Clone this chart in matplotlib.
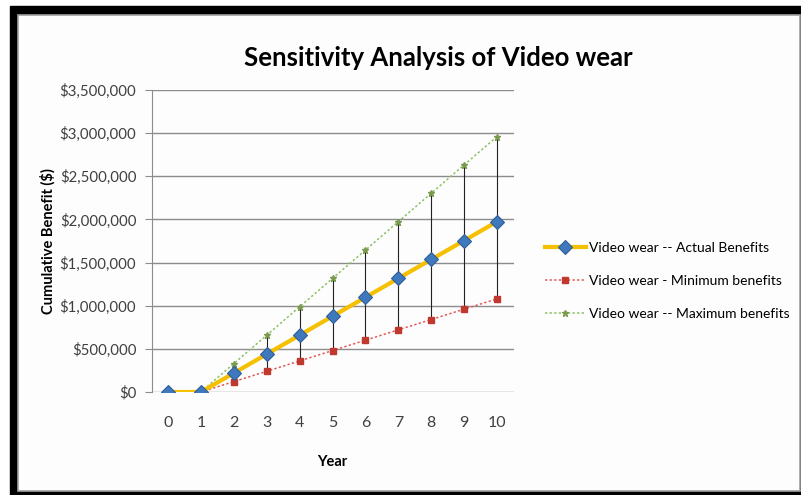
import matplotlib
matplotlib.use("Agg")
import matplotlib.pyplot as plt
import matplotlib.ticker as ticker
from matplotlib.patches import Rectangle

plt.rcParams['font.family'] = ['Lato', 'DejaVu Sans']

years = [0, 1, 2, 3, 4, 5, 6, 7, 8, 9, 10]
actual = [0, 0, 219000, 439000, 658000, 878000, 1097000, 1317000, 1536000, 1755000, 1975000]
minimum = [0, 0, 120000, 240000, 360000, 480000, 600000, 720000, 840000, 960000, 1080000]
maximum = [0, 0, 329000, 658000, 987000, 1316000, 1645000, 1974000, 2303000, 2632000, 2960000]

W, H = 801, 495
fig = plt.figure(figsize=(W / 100, H / 100), dpi=100)

# black frame with white panel
fig.patches.append(Rectangle((10 / W, 0), (W - 10) / W, (H - 6) / H,
                             transform=fig.transFigure, color='black', zorder=-3))
fig.patches.append(Rectangle((18 / W, 4 / H), (W - 19) / W, (H - 15 - 4) / H,
                             transform=fig.transFigure, facecolor='#fdfdfd',
                             edgecolor='#a0a0a0', lw=1.2, zorder=-2))

ax = fig.add_axes([151.5 / W, 1 - 392 / H, 362 / W, 302 / H])
ax.set_facecolor('none')

ax.vlines(years[2:], minimum[2:], maximum[2:], color='#222222', lw=0.8, zorder=2)
ax.plot(years, minimum, color='#e05a57', ls=(0, (1.5, 1.5)), lw=1.1,
        marker='s', ms=4, mfc='#c0392f', mec='#c0392f',
        label='Video wear - Minimum benefits', zorder=3)
ax.plot(years, maximum, color='#8cc060', ls=(0, (1.5, 1.5)), lw=1.1,
        marker='*', ms=5, mfc='#7a9a50', mec='#7a9a50',
        label='Video wear -- Maximum benefits', zorder=3)
ax.plot(years, actual, color='#f5c000', lw=3, marker='D', ms=7,
        mfc='#3f78bd', mec='#2f5f99', mew=0.8,
        label='Video wear -- Actual Benefits', zorder=4)

ax.set_xlim(-0.5, 10.5)
ax.set_ylim(0, 3500000)
ax.set_xticks(years)
ax.yaxis.set_major_locator(ticker.MultipleLocator(500000))
ax.yaxis.set_major_formatter(ticker.FuncFormatter(lambda v, p: '${:,.0f}'.format(v)))
ax.grid(axis='y', color='#8c8c8c', lw=1)
ax.set_axisbelow(True)
for s in ['top', 'right', 'bottom']:
    ax.spines[s].set_visible(False)
ax.spines['left'].set_color('#8c8c8c')
ax.tick_params(axis='y', colors='#8c8c8c', labelcolor='#404040', labelsize=10.8, length=5, pad=6)
ax.tick_params(axis='x', length=0, labelcolor='#404040', labelsize=11.5, pad=17)

ax.set_xlabel('Year', fontsize=10.5, fontweight='bold', labelpad=18)
ax.set_ylabel('Cumulative Benefit ($)', fontsize=10.5, fontweight='bold', labelpad=3)

fig.text(438 / W, 1 - 58 / H, 'Sensitivity Analysis of Video wear', ha='center', va='center',
         fontsize=18.5, fontweight='bold')

h, l = ax.get_legend_handles_labels()
order = [2, 0, 1]
fig.legend([h[i] for i in order], [l[i] for i in order], loc='center left',
           bbox_to_anchor=(532 / W, 1 - 281 / H), frameon=False, fontsize=10,
           handlelength=3, labelspacing=1.5, handletextpad=0.2)

fig.savefig('out.png', dpi=100)
